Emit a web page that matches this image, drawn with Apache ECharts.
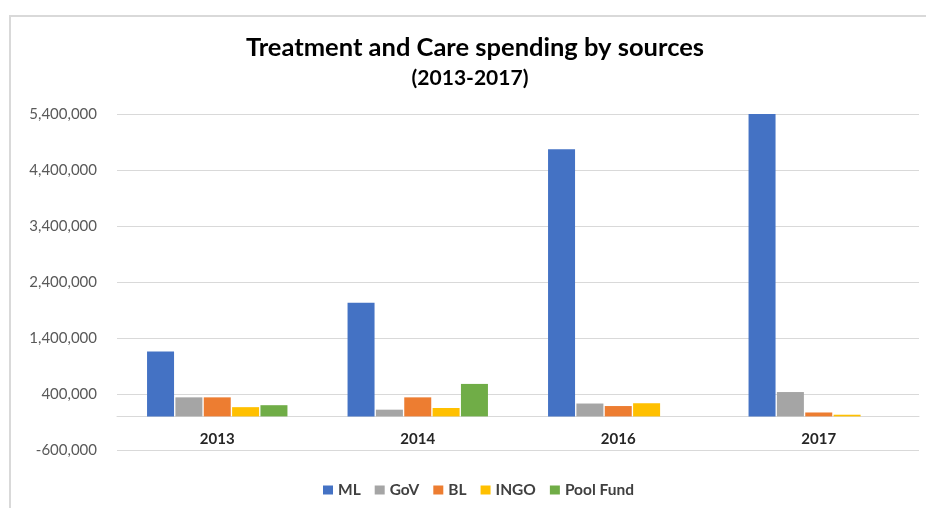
<!DOCTYPE html>
<html>
<head>
<meta charset="utf-8">
<script src="https://cdn.jsdelivr.net/npm/echarts@6/dist/echarts.min.js"></script>
<style>
  html, body { margin: 0; padding: 0; background: #fff; }
  #chart { width: 926px; height: 508px; }
</style>
</head>
<body>
<div id="chart"></div>
<script>
// Spending by year and funding source
const years = ['2013', '2014', '2016', '2017'];
const ml       = [1160000, 2030000, 4770000, 5400000];
const gov      = [340000, 120000, 230000, 435000];
const bl       = [340000, 340000, 185000, 70000];
const ingo     = [165000, 150000, 235000, 30000];
const poolFund = [200000, 580000, 0, 0];
const yTicks   = { min: -600000, max: 5400000, step: 1000000 };

const sources = [
  { name: 'ML', data: ml, color: '#4472C4' },
  { name: 'GoV', data: gov, color: '#A5A5A5' },
  { name: 'BL', data: bl, color: '#ED7D31' },
  { name: 'INGO', data: ingo, color: '#FFC000' },
  { name: 'Pool Fund', data: poolFund, color: '#70AD47' }
];

const font = 'Lato, "Open Sans", sans-serif';
const chart = echarts.init(document.getElementById('chart'), null, { renderer: 'canvas' });

// Plot area in pixels; the category axis sits on the zero line
const gridTop = 114, gridBottom = 58;
const plotH = 508 - gridTop - gridBottom;
const zeroFromBottom = plotH * (0 - yTicks.min) / (yTicks.max - yTicks.min);

chart.setOption({
  backgroundColor: '#ffffff',
  animation: false,
  textStyle: { fontFamily: font },
  graphic: [
    {
      type: 'rect',
      shape: { x: 10, y: 16, width: 1000, height: 1000 },
      style: { fill: 'none', stroke: '#d9d9d9', lineWidth: 2 },
      silent: true
    },
    {
      type: 'text',
      x: 475, y: 48,
      style: {
        text: 'Treatment and Care spending by sources',
        fill: '#000000',
        font: 'bold 25.5px ' + font,
        align: 'center', verticalAlign: 'middle'
      }
    },
    {
      type: 'text',
      x: 470, y: 78,
      style: {
        text: '(2013-2017)',
        fill: '#000000',
        font: 'bold 21px ' + font,
        align: 'center', verticalAlign: 'middle'
      }
    }
  ],
  legend: {
    left: 318,
    top: 477,
    icon: 'rect',
    itemWidth: 10,
    itemHeight: 9,
    itemGap: 14,
    textStyle: { fontFamily: font, fontSize: 15.5, fontWeight: 'bold', color: '#404040' },
    data: sources.map(s => s.name)
  },
  grid: { left: 117, right: 7, top: gridTop, bottom: gridBottom, containLabel: false },
  xAxis: {
    type: 'category',
    data: years,
    offset: -zeroFromBottom,
    axisLine: { onZero: false, lineStyle: { color: '#d9d9d9', width: 1 } },
    axisTick: { show: false },
    axisLabel: { fontFamily: font, fontSize: 15, fontWeight: 'bold', color: '#262626', margin: 15 }
  },
  yAxis: {
    type: 'value',
    min: yTicks.min,
    max: yTicks.max,
    interval: yTicks.step,
    axisLine: { show: false },
    axisTick: { show: false },
    splitLine: { lineStyle: { color: '#d9d9d9', width: 1 } },
    axisLabel: {
      fontFamily: font, fontSize: 15, color: '#595959', margin: 20,
      formatter: v => v.toLocaleString('en-US')
    }
  },
  series: sources.map(s => ({
    name: s.name,
    type: 'bar',
    data: s.data,
    barWidth: 27,
    barGap: '5%',
    itemStyle: { color: s.color }
  }))
});
</script>
</body>
</html>
